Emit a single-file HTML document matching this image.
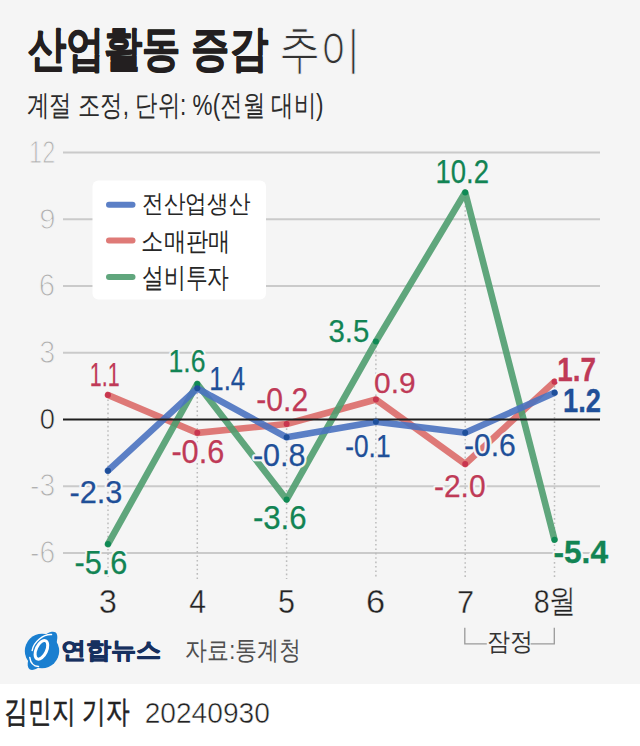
<!DOCTYPE html>
<html lang="ko">
<head>
<meta charset="utf-8">
<style>
html,body{margin:0;padding:0;width:640px;height:746px;overflow:hidden;background:#f5f5f5;}
svg{display:block;}
text{font-family:"Liberation Sans",sans-serif;}
</style>
</head>
<body>
<svg width="640" height="746" viewBox="0 0 640 746">
<rect x="0" y="0" width="640" height="684" fill="#f5f5f5"/>
<rect x="0" y="684" width="640" height="62" fill="#ffffff"/>
<line x1="63" y1="152.50" x2="600" y2="152.50" stroke="#cacaca" stroke-width="1.8"/>
<line x1="63" y1="219.25" x2="600" y2="219.25" stroke="#cacaca" stroke-width="1.8"/>
<line x1="63" y1="286.00" x2="600" y2="286.00" stroke="#cacaca" stroke-width="1.8"/>
<line x1="63" y1="352.75" x2="600" y2="352.75" stroke="#cacaca" stroke-width="1.8"/>
<line x1="63" y1="486.25" x2="600" y2="486.25" stroke="#cacaca" stroke-width="1.8"/>
<line x1="63" y1="553.00" x2="600" y2="553.00" stroke="#cacaca" stroke-width="1.8"/>
<line x1="108.00" y1="395.02" x2="108.00" y2="579" stroke="#bcbcbc" stroke-width="1.5" stroke-dasharray="1.6 2.8"/>
<line x1="197.30" y1="383.90" x2="197.30" y2="579" stroke="#bcbcbc" stroke-width="1.5" stroke-dasharray="1.6 2.8"/>
<line x1="286.60" y1="423.95" x2="286.60" y2="579" stroke="#bcbcbc" stroke-width="1.5" stroke-dasharray="1.6 2.8"/>
<line x1="375.90" y1="341.62" x2="375.90" y2="579" stroke="#bcbcbc" stroke-width="1.5" stroke-dasharray="1.6 2.8"/>
<line x1="465.20" y1="192.55" x2="465.20" y2="579" stroke="#bcbcbc" stroke-width="1.5" stroke-dasharray="1.6 2.8"/>
<line x1="554.50" y1="381.68" x2="554.50" y2="579" stroke="#bcbcbc" stroke-width="1.5" stroke-dasharray="1.6 2.8"/>
<rect x="92.5" y="180.5" width="173.5" height="119" rx="6" ry="6" fill="#ffffff"/>
<line x1="109" y1="204.75" x2="132.5" y2="204.75" stroke="#4a72c0" stroke-width="6" stroke-linecap="round" opacity="0.9"/>
<line x1="109" y1="240.5" x2="132.5" y2="240.5" stroke="#dc6c69" stroke-width="6" stroke-linecap="round" opacity="0.9"/>
<line x1="109" y1="277" x2="132.5" y2="277" stroke="#4f9d6f" stroke-width="6" stroke-linecap="round" opacity="0.9"/>
<polyline points="108.00,395.02 197.30,432.85 286.60,423.95 375.90,399.48 465.20,464.00 554.50,381.68" fill="none" stroke="#dc6c69" stroke-width="6.6" stroke-linejoin="round" stroke-linecap="round" opacity="0.9"/>
<polyline points="108.00,544.10 197.30,383.90 286.60,499.60 375.90,341.62 465.20,192.55 554.50,539.65" fill="none" stroke="#4f9d6f" stroke-width="6.6" stroke-linejoin="round" stroke-linecap="round" opacity="0.9"/>
<polyline points="108.00,470.68 197.30,388.35 286.60,437.30 375.90,421.73 465.20,432.85 554.50,392.80" fill="none" stroke="#4a72c0" stroke-width="6.6" stroke-linejoin="round" stroke-linecap="round" opacity="0.9"/>
<line x1="63" y1="419.50" x2="600" y2="419.50" stroke="#1e1e1e" stroke-width="2.2"/>
<circle cx="108.00" cy="395.02" r="3.0" fill="#c8364f"/>
<circle cx="197.30" cy="432.85" r="3.0" fill="#c8364f"/>
<circle cx="286.60" cy="423.95" r="3.0" fill="#c8364f"/>
<circle cx="375.90" cy="399.48" r="3.0" fill="#c8364f"/>
<circle cx="465.20" cy="464.00" r="3.0" fill="#c8364f"/>
<circle cx="554.50" cy="381.68" r="3.0" fill="#c8364f"/>
<circle cx="108.00" cy="544.10" r="3.0" fill="#0f8a55"/>
<circle cx="197.30" cy="383.90" r="3.0" fill="#0f8a55"/>
<circle cx="286.60" cy="499.60" r="3.0" fill="#0f8a55"/>
<circle cx="375.90" cy="341.62" r="3.0" fill="#0f8a55"/>
<circle cx="465.20" cy="192.55" r="3.0" fill="#0f8a55"/>
<circle cx="554.50" cy="539.65" r="3.0" fill="#0f8a55"/>
<circle cx="108.00" cy="470.68" r="3.0" fill="#1e4f9a"/>
<circle cx="197.30" cy="388.35" r="3.0" fill="#1e4f9a"/>
<circle cx="286.60" cy="437.30" r="3.0" fill="#1e4f9a"/>
<circle cx="375.90" cy="421.73" r="3.0" fill="#1e4f9a"/>
<circle cx="465.20" cy="432.85" r="3.0" fill="#1e4f9a"/>
<circle cx="554.50" cy="392.80" r="3.0" fill="#1e4f9a"/>
<path d="M464.8,627.7 V643.8 H486.8 M530.6,643.8 H554.3 V627.7" fill="none" stroke="#9a9a9a" stroke-width="1.3"/>
<g>
<circle cx="42" cy="651" r="17.2" fill="#1a7fd0"/>
<ellipse cx="0" cy="0" rx="22.5" ry="9" transform="translate(42.5,650.8) rotate(-55)" fill="#1a7fd0"/>
<path d="M32.2,650.5 C33.5,642 43,634.2 51.5,634.6" fill="none" stroke="#ffffff" stroke-width="1.5" stroke-linecap="round"/>
<path d="M29.8,657.5 C30.5,663 33.5,666.2 38.5,666.6" fill="none" stroke="#ffffff" stroke-width="1.5" stroke-linecap="round"/>
<ellipse cx="0" cy="0" rx="5.2" ry="10" transform="translate(41.4,649.8) rotate(25)" fill="none" stroke="#ffffff" stroke-width="3"/>
</g>
<text id="t_title" x="27.68" y="64.89" font-size="47.98" font-weight="bold" textLength="240.17" lengthAdjust="spacingAndGlyphs" fill="#231f20" stroke="#231f20" stroke-width="0.9" stroke-linejoin="round">산업활동 증감</text>
<text id="t_title2" x="279.11" y="66.54" font-size="51.39" font-weight="normal" textLength="82.58" lengthAdjust="spacingAndGlyphs" fill="#333" stroke="#f5f5f5" stroke-width="1.0">추이</text>
<text id="t_sub" x="27.10" y="114.88" font-size="29.17" font-weight="normal" textLength="296.29" lengthAdjust="spacingAndGlyphs" fill="#2b2b2b">계절 조정, 단위: %(전월 대비)</text>
<text id="y12" x="29.11" y="162.50" font-size="31.07" font-weight="normal" textLength="26.14" lengthAdjust="spacingAndGlyphs" fill="#b0b0b0" stroke="#f5f5f5" stroke-width="1.0">12</text>
<text id="y9" x="39.13" y="229.00" font-size="30.42" font-weight="normal" textLength="16.33" lengthAdjust="spacingAndGlyphs" fill="#b0b0b0" stroke="#f5f5f5" stroke-width="1.0">9</text>
<text id="y6" x="38.83" y="295.99" font-size="30.70" font-weight="normal" textLength="16.33" lengthAdjust="spacingAndGlyphs" fill="#b0b0b0" stroke="#f5f5f5" stroke-width="1.0">6</text>
<text id="y3" x="39.15" y="362.79" font-size="30.70" font-weight="normal" textLength="15.99" lengthAdjust="spacingAndGlyphs" fill="#b0b0b0" stroke="#f5f5f5" stroke-width="1.0">3</text>
<text id="y0" x="39.86" y="429.00" font-size="29.86" font-weight="normal" textLength="15.18" lengthAdjust="spacingAndGlyphs" fill="#222" stroke="#f5f5f5" stroke-width="0.6">0</text>
<text id="ym3" x="30.07" y="496.19" font-size="30.70" font-weight="normal" textLength="25.14" lengthAdjust="spacingAndGlyphs" fill="#b0b0b0" stroke="#f5f5f5" stroke-width="1.0">-3</text>
<text id="ym6" x="30.07" y="562.99" font-size="31.13" font-weight="normal" textLength="25.14" lengthAdjust="spacingAndGlyphs" fill="#b0b0b0" stroke="#f5f5f5" stroke-width="1.0">-6</text>
<text id="lg1" x="142.24" y="211.96" font-size="25.27" font-weight="normal" textLength="107.89" lengthAdjust="spacingAndGlyphs" fill="#262626">전산업생산</text>
<text id="lg2" x="141.44" y="249.79" font-size="26.39" font-weight="normal" textLength="89.18" lengthAdjust="spacingAndGlyphs" fill="#262626">소매판매</text>
<text id="lg3" x="141.91" y="287.08" font-size="27.78" font-weight="normal" textLength="87.28" lengthAdjust="spacingAndGlyphs" fill="#262626">설비투자</text>
<text x="69.50" y="503.30" font-size="32.25" font-weight="normal" textLength="52.96" lengthAdjust="spacingAndGlyphs" fill="#f5f5f5" stroke="#f5f5f5" stroke-width="4.5" stroke-linejoin="round">-2.3</text>
<text id="b1" x="69.50" y="503.30" font-size="32.25" font-weight="normal" textLength="52.96" lengthAdjust="spacingAndGlyphs" fill="#1f4f98" stroke="#1f4f98" stroke-width="0.25" stroke-linejoin="round">-2.3</text>
<text x="209.32" y="389.98" font-size="32.64" font-weight="normal" textLength="35.88" lengthAdjust="spacingAndGlyphs" fill="#f5f5f5" stroke="#f5f5f5" stroke-width="4.5" stroke-linejoin="round">1.4</text>
<text id="b2" x="209.32" y="389.98" font-size="32.64" font-weight="normal" textLength="35.88" lengthAdjust="spacingAndGlyphs" fill="#1f4f98" stroke="#1f4f98" stroke-width="0.25" stroke-linejoin="round">1.4</text>
<text x="252.90" y="466.07" font-size="30.92" font-weight="normal" textLength="52.59" lengthAdjust="spacingAndGlyphs" fill="#f5f5f5" stroke="#f5f5f5" stroke-width="4.5" stroke-linejoin="round">-0.8</text>
<text id="b3" x="252.90" y="466.07" font-size="30.92" font-weight="normal" textLength="52.59" lengthAdjust="spacingAndGlyphs" fill="#1f4f98" stroke="#1f4f98" stroke-width="0.25" stroke-linejoin="round">-0.8</text>
<text x="345.27" y="456.76" font-size="31.76" font-weight="normal" textLength="45.24" lengthAdjust="spacingAndGlyphs" fill="#f5f5f5" stroke="#f5f5f5" stroke-width="4.5" stroke-linejoin="round">-0.1</text>
<text id="b4" x="345.27" y="456.76" font-size="31.76" font-weight="normal" textLength="45.24" lengthAdjust="spacingAndGlyphs" fill="#1f4f98" stroke="#1f4f98" stroke-width="0.25" stroke-linejoin="round">-0.1</text>
<text x="463.92" y="456.46" font-size="31.34" font-weight="normal" textLength="51.96" lengthAdjust="spacingAndGlyphs" fill="#f5f5f5" stroke="#f5f5f5" stroke-width="4.5" stroke-linejoin="round">-0.6</text>
<text id="b5" x="463.92" y="456.46" font-size="31.34" font-weight="normal" textLength="51.96" lengthAdjust="spacingAndGlyphs" fill="#1f4f98" stroke="#1f4f98" stroke-width="0.25" stroke-linejoin="round">-0.6</text>
<text x="563.04" y="411.52" font-size="32.64" font-weight="bold" textLength="37.91" lengthAdjust="spacingAndGlyphs" fill="#f5f5f5" stroke="#f5f5f5" stroke-width="4.5" stroke-linejoin="round">1.2</text>
<text id="b6" x="563.04" y="411.52" font-size="32.64" font-weight="bold" textLength="37.91" lengthAdjust="spacingAndGlyphs" fill="#1f4f98" stroke="#1f4f98" stroke-width="0.35" stroke-linejoin="round">1.2</text>
<text x="89.82" y="385.98" font-size="32.97" font-weight="normal" textLength="29.81" lengthAdjust="spacingAndGlyphs" fill="#f5f5f5" stroke="#f5f5f5" stroke-width="4.5" stroke-linejoin="round">1.1</text>
<text id="r1" x="89.82" y="385.98" font-size="32.97" font-weight="normal" textLength="29.81" lengthAdjust="spacingAndGlyphs" fill="#bf3a57" stroke="#bf3a57" stroke-width="0.25" stroke-linejoin="round">1.1</text>
<text x="171.40" y="463.29" font-size="33.10" font-weight="normal" textLength="52.91" lengthAdjust="spacingAndGlyphs" fill="#f5f5f5" stroke="#f5f5f5" stroke-width="4.5" stroke-linejoin="round">-0.6</text>
<text id="r2" x="171.40" y="463.29" font-size="33.10" font-weight="normal" textLength="52.91" lengthAdjust="spacingAndGlyphs" fill="#bf3a57" stroke="#bf3a57" stroke-width="0.25" stroke-linejoin="round">-0.6</text>
<text x="256.32" y="411.05" font-size="32.75" font-weight="normal" textLength="51.86" lengthAdjust="spacingAndGlyphs" fill="#f5f5f5" stroke="#f5f5f5" stroke-width="4.5" stroke-linejoin="round">-0.2</text>
<text id="r3" x="256.32" y="411.05" font-size="32.75" font-weight="normal" textLength="51.86" lengthAdjust="spacingAndGlyphs" fill="#bf3a57" stroke="#bf3a57" stroke-width="0.25" stroke-linejoin="round">-0.2</text>
<text x="374.03" y="392.97" font-size="30.07" font-weight="normal" textLength="41.55" lengthAdjust="spacingAndGlyphs" fill="#f5f5f5" stroke="#f5f5f5" stroke-width="4.5" stroke-linejoin="round">0.9</text>
<text id="r4" x="374.03" y="392.97" font-size="30.07" font-weight="normal" textLength="41.55" lengthAdjust="spacingAndGlyphs" fill="#bf3a57" stroke="#bf3a57" stroke-width="0.25" stroke-linejoin="round">0.9</text>
<text x="433.93" y="496.76" font-size="31.34" font-weight="normal" textLength="51.65" lengthAdjust="spacingAndGlyphs" fill="#f5f5f5" stroke="#f5f5f5" stroke-width="4.5" stroke-linejoin="round">-2.0</text>
<text id="r5" x="433.93" y="496.76" font-size="31.34" font-weight="normal" textLength="51.65" lengthAdjust="spacingAndGlyphs" fill="#bf3a57" stroke="#bf3a57" stroke-width="0.25" stroke-linejoin="round">-2.0</text>
<text x="557.31" y="380.62" font-size="32.64" font-weight="bold" textLength="38.63" lengthAdjust="spacingAndGlyphs" fill="#f5f5f5" stroke="#f5f5f5" stroke-width="4.5" stroke-linejoin="round">1.7</text>
<text id="r6" x="557.31" y="380.62" font-size="32.64" font-weight="bold" textLength="38.63" lengthAdjust="spacingAndGlyphs" fill="#bf3a57" stroke="#bf3a57" stroke-width="0.35" stroke-linejoin="round">1.7</text>
<text x="74.50" y="573.54" font-size="33.45" font-weight="normal" textLength="52.96" lengthAdjust="spacingAndGlyphs" fill="#f5f5f5" stroke="#f5f5f5" stroke-width="4.5" stroke-linejoin="round">-5.6</text>
<text id="g1" x="74.50" y="573.54" font-size="33.45" font-weight="normal" textLength="52.96" lengthAdjust="spacingAndGlyphs" fill="#128454" stroke="#128454" stroke-width="0.25" stroke-linejoin="round">-5.6</text>
<text x="168.56" y="371.66" font-size="31.90" font-weight="normal" textLength="36.98" lengthAdjust="spacingAndGlyphs" fill="#f5f5f5" stroke="#f5f5f5" stroke-width="4.5" stroke-linejoin="round">1.6</text>
<text id="g2" x="168.56" y="371.66" font-size="31.90" font-weight="normal" textLength="36.98" lengthAdjust="spacingAndGlyphs" fill="#128454" stroke="#128454" stroke-width="0.25" stroke-linejoin="round">1.6</text>
<text x="252.88" y="528.75" font-size="32.32" font-weight="normal" textLength="53.75" lengthAdjust="spacingAndGlyphs" fill="#f5f5f5" stroke="#f5f5f5" stroke-width="4.5" stroke-linejoin="round">-3.6</text>
<text id="g3" x="252.88" y="528.75" font-size="32.32" font-weight="normal" textLength="53.75" lengthAdjust="spacingAndGlyphs" fill="#128454" stroke="#128454" stroke-width="0.25" stroke-linejoin="round">-3.6</text>
<text x="328.55" y="341.66" font-size="31.62" font-weight="normal" textLength="40.80" lengthAdjust="spacingAndGlyphs" fill="#f5f5f5" stroke="#f5f5f5" stroke-width="4.5" stroke-linejoin="round">3.5</text>
<text id="g4" x="328.55" y="341.66" font-size="31.62" font-weight="normal" textLength="40.80" lengthAdjust="spacingAndGlyphs" fill="#128454" stroke="#128454" stroke-width="0.25" stroke-linejoin="round">3.5</text>
<text x="435.40" y="182.55" font-size="32.32" font-weight="normal" textLength="53.55" lengthAdjust="spacingAndGlyphs" fill="#f5f5f5" stroke="#f5f5f5" stroke-width="4.5" stroke-linejoin="round">10.2</text>
<text id="g5" x="435.40" y="182.55" font-size="32.32" font-weight="normal" textLength="53.55" lengthAdjust="spacingAndGlyphs" fill="#128454" stroke="#128454" stroke-width="0.25" stroke-linejoin="round">10.2</text>
<text x="553.42" y="563.26" font-size="31.86" font-weight="bold" textLength="54.60" lengthAdjust="spacingAndGlyphs" fill="#f5f5f5" stroke="#f5f5f5" stroke-width="4.5" stroke-linejoin="round">-5.4</text>
<text id="g6" x="553.42" y="563.26" font-size="31.86" font-weight="bold" textLength="54.60" lengthAdjust="spacingAndGlyphs" fill="#128454" stroke="#128454" stroke-width="0.35" stroke-linejoin="round">-5.4</text>
<text id="x3" x="99.02" y="612.87" font-size="32.96" font-weight="normal" textLength="17.85" lengthAdjust="spacingAndGlyphs" fill="#222" stroke="#f5f5f5" stroke-width="0.4">3</text>
<text id="x4" x="189.20" y="613.20" font-size="33.43" font-weight="normal" textLength="16.80" lengthAdjust="spacingAndGlyphs" fill="#222" stroke="#f5f5f5" stroke-width="0.4">4</text>
<text id="x5" x="278.08" y="612.87" font-size="32.71" font-weight="normal" textLength="16.98" lengthAdjust="spacingAndGlyphs" fill="#222" stroke="#f5f5f5" stroke-width="0.4">5</text>
<text id="x6" x="366.08" y="612.87" font-size="32.96" font-weight="normal" textLength="19.11" lengthAdjust="spacingAndGlyphs" fill="#222" stroke="#f5f5f5" stroke-width="0.4">6</text>
<text id="x7" x="457.01" y="612.70" font-size="32.00" font-weight="normal" textLength="17.11" lengthAdjust="spacingAndGlyphs" fill="#222" stroke="#f5f5f5" stroke-width="0.4">7</text>
<text id="x8" x="533.76" y="612.87" font-size="32.82" font-weight="normal" textLength="15.88" lengthAdjust="spacingAndGlyphs" fill="#222" stroke="#f5f5f5" stroke-width="0.4">8</text>
<text id="x8b" x="549.35" y="611.70" font-size="32.53" font-weight="normal" textLength="26.88" lengthAdjust="spacingAndGlyphs" fill="#222" stroke="#f5f5f5" stroke-width="0.4">월</text>
<text id="prov" x="486.89" y="650.32" font-size="25.49" font-weight="normal" textLength="46.03" lengthAdjust="spacingAndGlyphs" fill="#333">잠정</text>
<text id="logo_t" x="61.09" y="657.51" font-size="22.87" font-weight="bold" textLength="100.47" lengthAdjust="spacingAndGlyphs" fill="#17305f" stroke="#17305f" stroke-width="0.8" stroke-linejoin="round">연합뉴스</text>
<text id="src" x="185.30" y="658.97" font-size="25.56" font-weight="normal" textLength="115.72" lengthAdjust="spacingAndGlyphs" fill="#4f4f4f">자료:통계청</text>
<text id="by" x="4.41" y="721.71" font-size="31.21" font-weight="normal" textLength="125.21" lengthAdjust="spacingAndGlyphs" fill="#222" stroke="#222" stroke-width="0.6" stroke-linejoin="round">김민지 기자</text>
<text id="date" x="144.64" y="723.05" font-size="29.58" font-weight="normal" textLength="125.21" lengthAdjust="spacingAndGlyphs" fill="#222" stroke="#ffffff" stroke-width="0.5">20240930</text>
</svg>
</body>
</html>
